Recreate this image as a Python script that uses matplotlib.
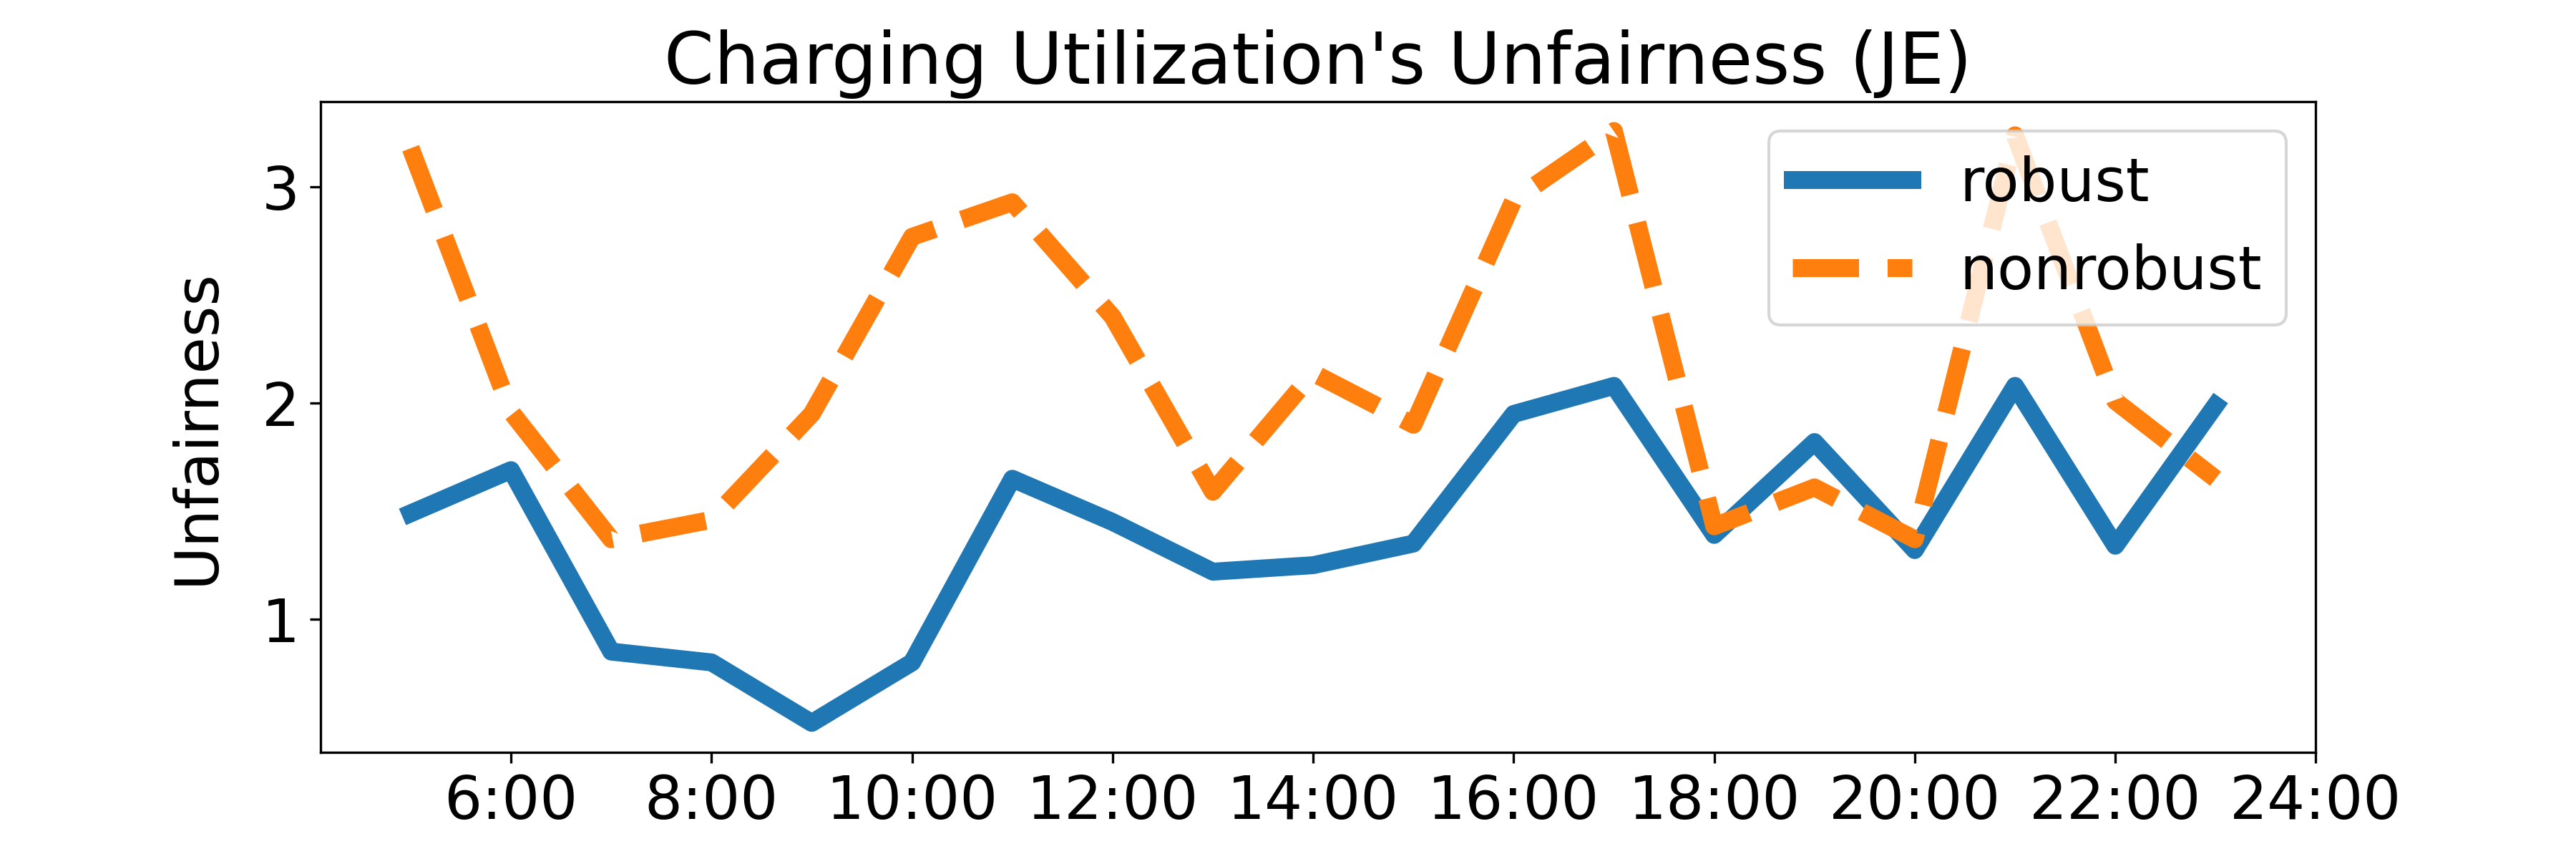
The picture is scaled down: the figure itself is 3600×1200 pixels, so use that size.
import matplotlib

matplotlib.use("Agg")
import matplotlib.pyplot as plt

# hours of the day (x) and unfairness values
hours = [5, 6, 7, 8, 9, 10, 11, 12, 13, 14, 15, 16, 17, 18, 19, 20, 21, 22, 23]
robust = [1.49, 1.69, 0.85, 0.80, 0.52, 0.80, 1.65, 1.45, 1.22, 1.25, 1.35,
          1.95, 2.08, 1.39, 1.82, 1.32, 2.08, 1.34, 1.99]
nonrobust = [3.18, 1.96, 1.37, 1.46, 1.95, 2.77, 2.93, 2.40, 1.59, 2.14, 1.90,
             2.94, 3.26, 1.43, 1.61, 1.37, 3.24, 2.01, 1.65]
tick_hours = [6, 8, 10, 12, 14, 16, 18, 20, 22, 24]
tick_labels = [f"{h}:00" for h in tick_hours]

plt.rcParams["font.size"] = 20

fig, ax = plt.subplots(figsize=(12, 4), dpi=300)
ax.plot(hours, robust, color="C0", linewidth=6, label="robust")
ax.plot(hours, nonrobust, color="C1", linewidth=6, linestyle="--", label="nonrobust")

ax.set_xticks(tick_hours)
ax.set_xticklabels(tick_labels)
ax.set_ylabel("Unfairness", labelpad=12)
ax.set_title("Charging Utilization's Unfairness (JE)")
ax.legend(loc="upper right")

fig.subplots_adjust(left=0.1244, right=0.899, top=0.882, bottom=0.124)
fig.savefig("out.png", dpi=300)
